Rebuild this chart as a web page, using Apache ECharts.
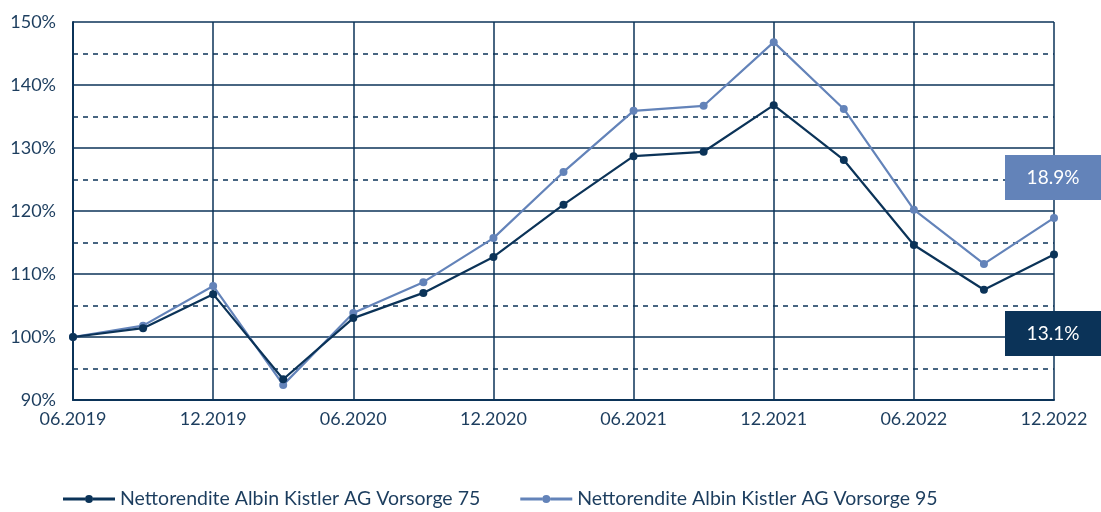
<!DOCTYPE html>
<html><head><meta charset="utf-8">
<script src="https://cdn.jsdelivr.net/npm/echarts@6/dist/echarts.min.js"></script>
<style>html,body{margin:0;padding:0;background:#fff}#c{width:1101px;height:512px}</style>
</head><body><div id="c"></div>
<script>
const categories = ['06.2019','09.2019','12.2019','03.2020','06.2020','09.2020','12.2020','03.2021','06.2021','09.2021','12.2021','03.2022','06.2022','09.2022','12.2022'];
const vorsorge75 = [100,101.4,106.8,93.3,103.0,107.0,112.7,121.0,128.7,129.4,136.8,128.1,114.6,107.5,113.1];
const vorsorge95 = [100,101.8,108.1,92.4,103.8,108.7,115.7,126.2,135.9,136.7,146.8,136.2,120.2,111.6,118.9];
const seriesNames = ['Nettorendite Albin Kistler AG Vorsorge 75','Nettorendite Albin Kistler AG Vorsorge 95'];
const dark = '#0b3358', light = '#6383b9', textCol = '#1c3d5e';
const font = 'Lato';
const chart = echarts.init(document.getElementById('c'));
const perf = a => (a[a.length-1]-100).toFixed(1) + '%';
const box = (top, fill, text) => ({type:'group',left:1005,top:top,z:100,children:[
  {type:'rect',z:100,shape:{x:0,y:0,width:96,height:45},style:{fill:fill}},
  {type:'text',z:101,x:48,y:23,style:{text:text,fill:'#fff',font:'19px Lato',align:'center',verticalAlign:'middle'}}
]});
chart.setOption({
  animation:false,
  grid:{left:73,right:47,top:22,bottom:112},
  xAxis:{type:'category',data:categories,boundaryGap:false,
    axisLine:{lineStyle:{color:dark,width:2}},axisTick:{show:false},
    axisLabel:{interval:1,color:textCol,fontFamily:font,fontSize:18,margin:10},
    splitLine:{show:true,interval:1,lineStyle:{color:dark,width:1.5}}},
  yAxis:{type:'value',min:90,max:150,interval:10,
    axisLine:{show:true,lineStyle:{color:dark,width:2}},axisTick:{show:false},
    axisLabel:{formatter:'{value}%',color:textCol,fontFamily:font,fontSize:18,margin:17},
    splitLine:{lineStyle:{color:dark,width:1.5}},
    minorTick:{show:false,splitNumber:2},
    minorSplitLine:{show:true,lineStyle:{color:dark,width:1.5,type:[5,5]}}},
  legend:{bottom:-2,left:58,itemWidth:52,itemHeight:10,itemGap:40,
    icon:'path://M0,3.5 L22,3.5 L22,6.5 L0,6.5 Z M30,3.5 L52,3.5 L52,6.5 L30,6.5 Z M22,5 a4,4 0 1,1 8,0 a4,4 0 1,1 -8,0 Z',
    textStyle:{color:textCol,fontFamily:font,fontSize:19.5}},
  series:[
    {name:seriesNames[0],type:'line',data:vorsorge75,color:dark,symbol:'circle',symbolSize:8,lineStyle:{width:2.2},z:3},
    {name:seriesNames[1],type:'line',data:vorsorge95,color:light,symbol:'circle',symbolSize:8,lineStyle:{width:2.2},z:2}
  ],
  graphic:[box(155, light, perf(vorsorge95)), box(311, dark, perf(vorsorge75))]
});
</script></body></html>
